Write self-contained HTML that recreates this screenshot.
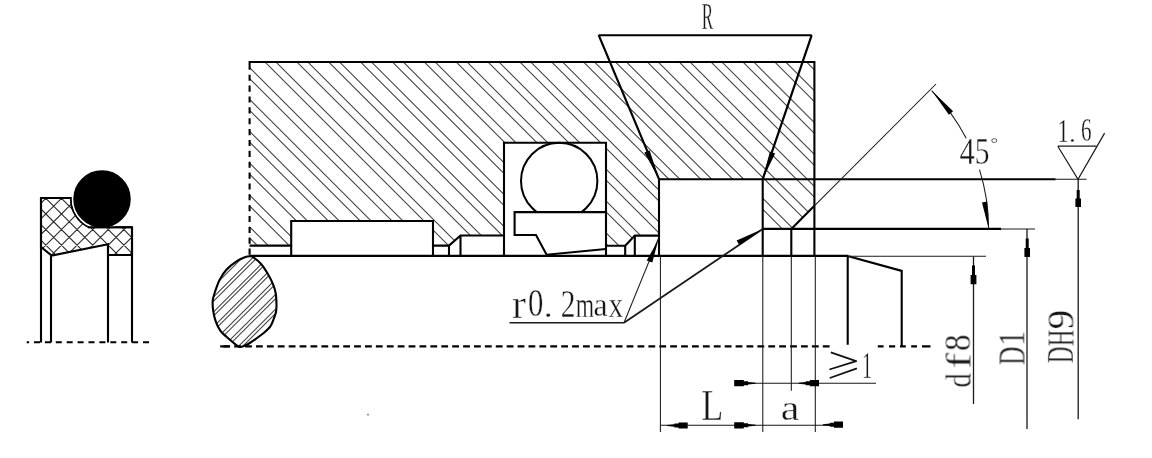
<!DOCTYPE html>
<html><head><meta charset="utf-8"><style>
html,body{margin:0;padding:0;background:#fff;width:1152px;height:458px;overflow:hidden}
svg{display:block}
text{font-family:"Liberation Serif",serif;fill:#161616;stroke:#fff;stroke-width:1.0px;paint-order:normal}
svg text{will-change:transform}
</style></head><body>
<svg width="1152" height="458" viewBox="0 0 1152 458">
<defs>
<clipPath id="cb"><path d="M249.6 62L814.4 62L814.4 205.8L791.3 228.9L762.7 228.9L762.7 179.2L659 179.2L659 235.6L634.8 235.6L625.2 245.7L606 245.7L606 142.7L504 142.7L504 235.5L460.5 235.5L449 245.6L433 245.6L433 221L291.2 221L291.2 245.6L249.6 245.6Z"/></clipPath>
<clipPath id="co"><path d="M249.8 256.3C251.2 256.4 251.8 256.3 253.7 257.6C255.6 258.9 258.9 261.5 261.3 264.2C263.7 266.9 265.9 270.6 267.9 274.0C269.9 277.4 272.0 281.6 273.3 284.9C274.6 288.2 275.3 290.6 275.8 294.0C276.3 297.4 276.5 302.0 276.5 305.0C276.5 308.0 276.4 309.7 276.0 312.0C275.6 314.3 274.7 316.2 273.8 318.6C272.9 321.0 272.1 323.8 270.5 326.2C268.9 328.6 266.6 330.6 264.0 332.8C261.4 335.0 258.1 337.3 255.2 339.3C252.3 341.3 249.0 343.5 246.5 344.8C244.0 346.1 242.0 347.2 240.0 347.0C238.0 346.8 236.7 345.3 234.5 343.7C232.3 342.1 229.2 339.3 226.8 337.1C224.4 334.9 222.1 333.2 220.3 330.6C218.5 328.1 217.1 325.1 215.9 321.8C214.7 318.5 213.7 314.5 213.2 310.9C212.7 307.3 212.4 303.4 212.8 300.0C213.2 296.6 214.3 293.8 215.5 290.4C216.7 287.0 218.0 282.9 219.8 279.5C221.6 276.1 223.5 272.8 226.4 269.7C229.3 266.6 234.1 263.0 237.3 260.9C240.5 258.8 243.4 257.8 245.5 257.0C247.6 256.2 248.4 256.2 249.8 256.3Z"/></clipPath>
<clipPath id="cs"><path d="M41 198 L71 198 A31 31 0 0 0 89 227.2 L132 227.2 L132 255 L108 255 L108 244.3 L51.7 255.6 L41 247 Z"/></clipPath>
<clipPath id="oc"><rect x="500" y="130" width="110" height="82"/></clipPath>
</defs>
<rect width="1152" height="458" fill="#fff"/>
<g stroke="#404040" stroke-width="1.05" fill="none">
<path clip-path="url(#cb)" d="M-203.0 40L17.0 260M-192.1 40L27.9 260M-171.2 40L48.8 260M-160.3 40L59.7 260M-139.3 40L80.7 260M-128.4 40L91.6 260M-107.5 40L112.5 260M-96.6 40L123.4 260M-75.6 40L144.4 260M-64.7 40L155.3 260M-43.7 40L176.3 260M-32.8 40L187.2 260M-11.9 40L208.1 260M-1.0 40L219.0 260M20.0 40L240.0 260M30.9 40L250.9 260M51.8 40L271.8 260M62.7 40L282.7 260M83.7 40L303.7 260M94.6 40L314.6 260M115.6 40L335.6 260M126.5 40L346.5 260M147.4 40L367.4 260M158.3 40L378.3 260M179.3 40L399.3 260M190.2 40L410.2 260M211.1 40L431.1 260M222.0 40L442.0 260M243.0 40L463.0 260M253.9 40L473.9 260M274.9 40L494.9 260M285.8 40L505.8 260M306.7 40L526.7 260M317.6 40L537.6 260M338.6 40L558.6 260M349.5 40L569.5 260M370.4 40L590.4 260M381.3 40L601.3 260M402.3 40L622.3 260M413.2 40L633.2 260M434.2 40L654.2 260M445.1 40L665.1 260M466.0 40L686.0 260M476.9 40L696.9 260M497.9 40L717.9 260M508.8 40L728.8 260M529.7 40L749.7 260M540.6 40L760.6 260M561.6 40L781.6 260M572.5 40L792.5 260M593.5 40L813.5 260M604.4 40L824.4 260M625.3 40L845.3 260M636.2 40L856.2 260M657.2 40L877.2 260M668.1 40L888.1 260M689.0 40L909.0 260M699.9 40L919.9 260M720.9 40L940.9 260M731.8 40L951.8 260M752.8 40L972.8 260M763.7 40L983.7 260M784.6 40L1004.6 260M795.5 40L1015.5 260M816.5 40L1036.5 260M827.4 40L1047.4 260M848.3 40L1068.3 260M859.2 40L1079.2 260M880.2 40L1100.2 260M891.1 40L1111.1 260M912.1 40L1132.1 260M923.0 40L1143.0 260"/>
<path clip-path="url(#co)" d="M201.1 250L101.1 350M205.4 250L105.4 350M216.0 250L116.0 350M220.3 250L120.3 350M230.8 250L130.8 350M235.1 250L135.1 350M245.7 250L145.7 350M250.0 250L150.0 350M260.5 250L160.5 350M264.8 250L164.8 350M275.4 250L175.4 350M279.6 250L179.6 350M290.2 250L190.2 350M294.5 250L194.5 350M305.1 250L205.1 350M309.4 250L209.4 350M319.9 250L219.9 350M324.2 250L224.2 350M334.8 250L234.8 350M339.0 250L239.0 350M349.6 250L249.6 350M353.9 250L253.9 350M364.5 250L264.5 350M368.8 250L268.8 350M379.3 250L279.3 350M383.6 250L283.6 350M394.2 250L294.2 350M398.5 250L298.5 350"/>
<path clip-path="url(#cs)" d="M-87.3 190L-17.3 260M-71.7 190L-1.7 260M-56.1 190L13.9 260M-40.5 190L29.5 260M-24.9 190L45.1 260M-9.3 190L60.7 260M6.3 190L76.3 260M21.9 190L91.9 260M37.5 190L107.5 260M53.1 190L123.1 260M68.7 190L138.7 260M84.3 190L154.3 260M99.9 190L169.9 260M115.5 190L185.5 260M131.1 190L201.1 260M146.7 190L216.7 260M-23.8 190L-93.8 260M-8.2 190L-78.2 260M7.4 190L-62.6 260M23.0 190L-47.0 260M38.6 190L-31.4 260M54.2 190L-15.8 260M69.8 190L-0.2 260M85.4 190L15.4 260M101.0 190L31.0 260M116.6 190L46.6 260M132.2 190L62.2 260M147.8 190L77.8 260M163.4 190L93.4 260M179.0 190L109.0 260M194.6 190L124.6 260M210.2 190L140.2 260" stroke="#2a2a2a" stroke-width="1.1"/>
</g>

<g stroke="#000" stroke-width="2.1" fill="none">
<path d="M249.6 62H814.4V255.9"/>
<path d="M659 179.2H1055.7"/>
<path d="M762.7 179.2V255.9M762.7 228.9H1001M791.3 228.9L814.4 205.8"/>
<path d="M249.6 61V69.7"/>
<path d="M249.6 74.7V256" stroke-dasharray="6.1 4.77"/>
<path d="M249.6 255.9H848.5"/>
<path d="M249.6 245.6H291.2"/>
<path d="M291.2 255.9V221H433V255.9"/>
<path d="M433 245.6H449V255.9M449 245.6L460.5 235.5H504M460.5 235.5V255.9"/>
<path d="M504 255.9V142.7H606V255.9"/>
<path d="M606 212.1H514.6V235H536L546.6 254.7L606 249"/>
<path d="M606 245.7H625.2V255.9M625.2 245.7L634.8 235.6H659M634.8 235.6V255.9"/>
<path d="M659 179.2V255.9"/>
<path d="M791.3 228.9V255.9"/>
<path d="M598.7 35.2H811.7"/>
<path d="M847.7 255.9V344.8M848.5 256.2L901.7 270.9V346"/>
</g>
<circle cx="559.2" cy="181" r="38.2" stroke="#000" stroke-width="2" fill="none" clip-path="url(#oc)"/>
<path d="M249.8 256.3C251.2 256.4 251.8 256.3 253.7 257.6C255.6 258.9 258.9 261.5 261.3 264.2C263.7 266.9 265.9 270.6 267.9 274.0C269.9 277.4 272.0 281.6 273.3 284.9C274.6 288.2 275.3 290.6 275.8 294.0C276.3 297.4 276.5 302.0 276.5 305.0C276.5 308.0 276.4 309.7 276.0 312.0C275.6 314.3 274.7 316.2 273.8 318.6C272.9 321.0 272.1 323.8 270.5 326.2C268.9 328.6 266.6 330.6 264.0 332.8C261.4 335.0 258.1 337.3 255.2 339.3C252.3 341.3 249.0 343.5 246.5 344.8C244.0 346.1 242.0 347.2 240.0 347.0C238.0 346.8 236.7 345.3 234.5 343.7C232.3 342.1 229.2 339.3 226.8 337.1C224.4 334.9 222.1 333.2 220.3 330.6C218.5 328.1 217.1 325.1 215.9 321.8C214.7 318.5 213.7 314.5 213.2 310.9C212.7 307.3 212.4 303.4 212.8 300.0C213.2 296.6 214.3 293.8 215.5 290.4C216.7 287.0 218.0 282.9 219.8 279.5C221.6 276.1 223.5 272.8 226.4 269.7C229.3 266.6 234.1 263.0 237.3 260.9C240.5 258.8 243.4 257.8 245.5 257.0C247.6 256.2 248.4 256.2 249.8 256.3Z" stroke="#000" stroke-width="2.1" fill="none"/>
<path d="M223.3 346.4H831" stroke="#000" stroke-width="2.2" stroke-dasharray="6.8 4.1"/>
<path d="M220.2 346.4H229.6" stroke="#000" stroke-width="2.2"/>
<path d="M877.8 346.4H883.6M889 346.4H895.2M900 346.4H905.8M911.2 346.4H917M922 346.4H930.5" stroke="#000" stroke-width="2.2"/>
<g stroke="#1a1a1a" stroke-width="1.05" fill="none">
<path d="M598.7 35.2L659 179.2M811.7 35.2L762.7 179.2" stroke-width="2.2" stroke="#000"/>
<path d="M814.4 205.8L936 84"/>
<path d="M1001 228.9H1035M1055.7 179.2H1086.6"/>
<path d="M848.5 256.2H986"/>
<path d="M973.5 256.5V404M1027 228.9V429M1078.2 179.4V419.3" stroke-width="1.3"/>
<path d="M660.4 255.9V432M762.8 255.9V432M815.3 255.9V432M791.3 255.9V390.8"/>
<path d="M660.4 425.3H843M734.8 383.2H876"/>
<path d="M509.5 322.7H624" stroke-width="1.6"/>
<path d="M624 322.7L659 237"/>
<path d="M624 322.7L762.7 229" stroke-width="1.8"/>
<path d="M1057.8 146.2H1096.3M1057.8 146.2L1078 179.4L1104.6 133.1" stroke-width="1.2"/>
<path d="M931.6 90.6A197.3 197.3 0 0 1 966.2 138.3M979.5 169.6A197.3 197.3 0 0 1 988.6 228.5"/>
</g>
<path d="M659.0 179.2L644.4 152.4L649.6 150.2Z" fill="#000"/>
<path d="M762.7 179.2L769.9 151.4L775.1 153.4Z" fill="#000"/>
<path d="M658.3 240.0L652.3 262.6L646.7 260.4Z" fill="#000"/>
<path d="M762.7 229.0L739.4 245.2L736.6 240.4Z" fill="#000"/>
<path d="M931.6 90.6L953.1 111.2L948.9 114.8Z" fill="#000"/>
<path d="M988.6 228.5L982.0 202.4L987.2 201.6Z" fill="#000"/>
<path d="M974.0 265.5L974.7 265.5L975.0 265.5L975.0 274.9L976.4 274.9L976.4 284.3L970.6 284.3L970.6 274.9L972.0 274.9L972.0 265.5L972.3 265.5L973.0 265.5Z" fill="#000"/>
<path d="M1027.7 238.5L1028.4 238.5L1028.7 238.5L1028.7 248.1L1030.0 248.1L1030.0 256.9L1024.4 256.9L1024.4 248.1L1025.7 248.1L1025.7 238.5L1026.0 238.5L1026.7 238.5Z" fill="#000"/>
<path d="M1078.7 190.0L1079.4 190.0L1079.7 190.0L1079.7 198.5L1081.0 198.5L1081.0 207.0L1075.4 207.0L1075.4 198.5L1076.7 198.5L1076.7 190.0L1077.0 190.0L1077.7 190.0Z" fill="#000"/>
<path d="M667.2 425.0L674.4 424.3L674.4 423.5L678.5 423.5L678.5 422.4L687.7 422.4L687.7 428.6L678.5 428.6L678.5 427.5L674.4 427.5L674.4 426.7L667.2 426.0Z" fill="#000"/>
<path d="M755.6 425.8L748.1 426.5L748.1 427.3L743.8 427.3L743.8 428.4L734.2 428.4L734.2 422.2L743.8 422.2L743.8 423.3L748.1 423.3L748.1 424.1L755.6 424.8Z" fill="#000"/>
<path d="M755.6 383.7L748.1 384.4L748.1 385.2L743.8 385.2L743.8 386.3L734.2 386.3L734.2 380.1L743.8 380.1L743.8 381.2L748.1 381.2L748.1 382.0L755.6 382.7Z" fill="#000"/>
<path d="M798.7 382.7L805.8 382.0L805.8 381.2L809.9 381.2L809.9 380.1L819.0 380.1L819.0 386.3L809.9 386.3L809.9 385.2L805.8 385.2L805.8 384.4L798.7 383.7Z" fill="#000"/>
<path d="M822.8 424.2L829.9 423.5L829.9 422.7L833.9 422.7L833.9 421.6L843.0 421.6L843.0 427.8L833.9 427.8L833.9 426.7L829.9 426.7L829.9 425.9L822.8 425.2Z" fill="#000"/>
<path d="M41 198 L71 198 A31 31 0 0 0 89 227.2 L132 227.2 L132 255 L108 255 L108 244.3 L51.7 255.6 L41 247 Z" stroke="#000" stroke-width="2.1" fill="none"/>
<clipPath id="ccl"><rect x="0" y="150" width="200" height="78.2"/></clipPath>
<circle cx="102" cy="199" r="29.5" fill="#000" stroke="#fff" stroke-width="1.5" clip-path="url(#ccl)"/>
<path d="M88 227.2H132" stroke="#000" stroke-width="2.1"/>
<path d="M41 198V342.5M51 255.6V342.5M108 244.3V342.5M132 227.2V342.5" stroke="#000" stroke-width="2.1" fill="none"/>
<path d="M26.7 342.3H151" stroke="#000" stroke-width="2.1" stroke-dasharray="6 4.9" stroke-dashoffset="3.6" fill="none"/>
<text font-size="100" transform="matrix(0.1703 0 0 0.3831 701.69 29.30)">R</text>
<text font-size="100" transform="matrix(0.4200 0 0 0.3913 512.06 317.59)">r</text>
<text font-size="100" transform="matrix(0.3071 0 0 0.3955 528.07 316.41)">0</text>
<text font-size="100" transform="matrix(0.3545 0 0 0.3250 543.72 316.88)">.</text>
<text font-size="100" transform="matrix(0.2950 0 0 0.3908 560.82 316.70)">2</text>
<text font-size="100" transform="matrix(0.2365 0 0 0.3596 575.63 316.70)">m</text>
<text font-size="100" transform="matrix(0.3179 0 0 0.3417 593.43 316.36)">a</text>
<text font-size="100" transform="matrix(0.2938 0 0 0.3565 608.51 316.70)">x</text>
<text font-size="100" transform="matrix(0.3043 0 0 0.3892 959.39 164.00)">4</text>
<text font-size="100" transform="matrix(0.2950 0 0 0.3833 974.83 163.62)">5</text>
<text font-size="100" transform="matrix(0.1900 0 0 0.1733 990.55 149.34)">°</text>
<text font-size="100" transform="matrix(0.2257 0 0 0.3318 1057.57 141.90)">1</text>
<text font-size="100" transform="matrix(0.2727 0 0 0.2583 1069.09 141.64)">.</text>
<text font-size="100" transform="matrix(0.2116 0 0 0.3269 1081.05 141.25)">6</text>
<text font-size="100" transform="matrix(0.3615 0 0 0.4431 701.32 419.90)">L</text>
<text font-size="100" transform="matrix(0.4205 0 0 0.3604 780.82 419.84)">a</text>
<text font-size="100" transform="matrix(0.2000 0 0 0.3773 862.10 378.20)">1</text>
<path d="M830.8 352.4L856.2 361.2L829.4 369.5M829.8 378L856.9 368.4" stroke="#111" stroke-width="1.8" stroke-linejoin="round" fill="none"/>
<text font-size="100" transform="matrix(0 -0.2867 0.3657 0 970.63 387.55)">d</text>
<text font-size="100" transform="matrix(0 -0.4900 0.3600 0 970.96 369.07)">f</text>
<text font-size="100" transform="matrix(0 -0.3333 0.3821 0 970.04 350.93)">8</text>
<text font-size="100" transform="matrix(0 -0.2569 0.3708 0 1024.50 365.07)">D</text>
<text font-size="100" transform="matrix(0 -0.3086 0.3727 0 1024.50 345.98)">1</text>
<text font-size="100" transform="matrix(0 -0.2277 0.3831 0 1073.40 363.08)">D</text>
<text font-size="100" transform="matrix(0 -0.2258 0.3831 0 1073.40 346.08)">H</text>
<text font-size="100" transform="matrix(0 -0.3953 0.3773 0 1073.02 329.59)">9</text>
<circle cx="368" cy="414.7" r="0.9" fill="#777"/>
</svg></body></html>
